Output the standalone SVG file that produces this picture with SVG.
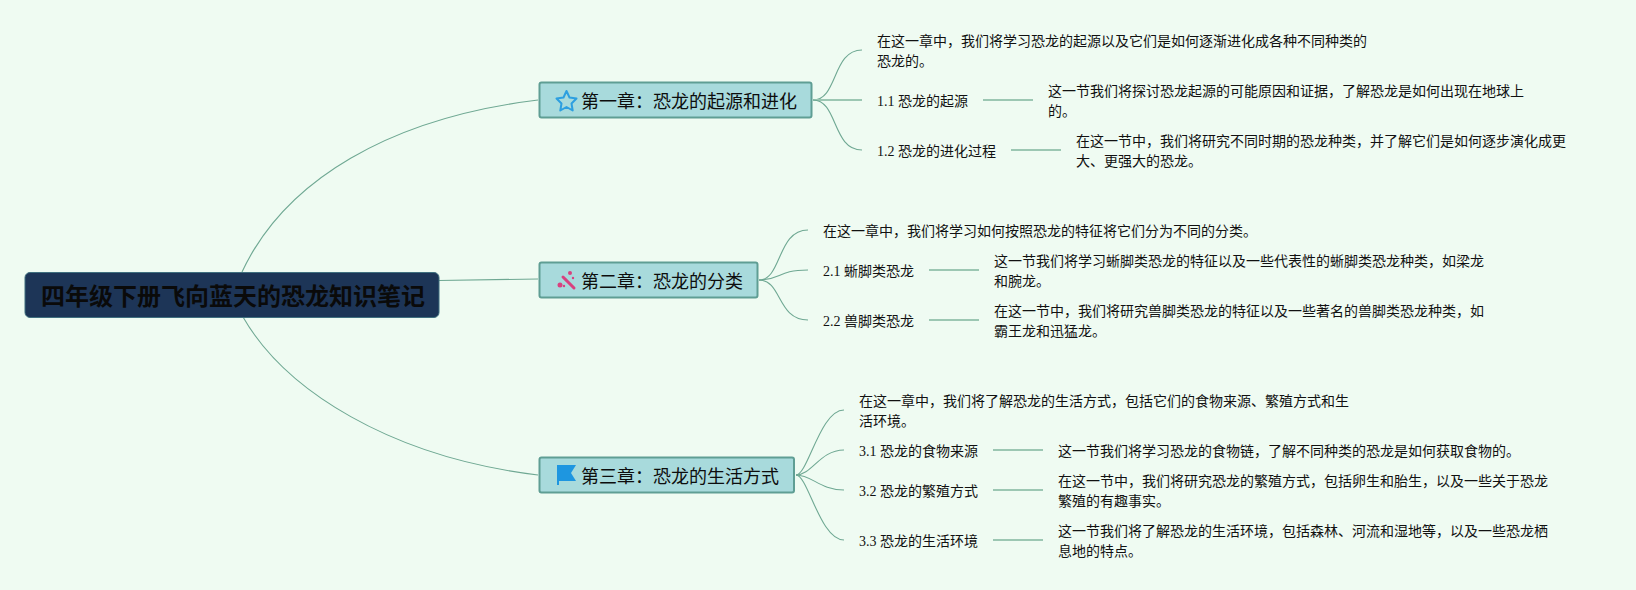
<svg xmlns="http://www.w3.org/2000/svg" width="1636" height="590" viewBox="0 0 1636 590">
<style>
.t{font-family:"Liberation Serif","Noto Sans CJK SC",serif;font-size:14px;fill:#111}
.c{font-family:"Liberation Sans","Noto Sans CJK SC",sans-serif;font-size:18px;fill:#0d0d0d}
.b{fill:#a8dadc;stroke:#5f9e94;stroke-width:2}
.l{fill:none;stroke:#6fa893;stroke-width:1.1}
.h{fill:none;stroke:#9cc7b3;stroke-width:2}
</style>
<rect width="1636" height="590" fill="#effbf2"/>
<g id="connectors">
<path class="l" d="M242 272C285 180 390 118 538 100"/>
<path class="l" d="M439 280.500L538 279"/>
<path class="l" d="M243 317C285 390 390 457 538 475"/>
<path class="l" d="M813 100C838 100 832 50 862 50"/>
<path class="h" d="M813 100H862"/>
<path class="l" d="M813 100C838 100 832 150 862 150"/>
<path class="h" d="M983 100H1033"/>
<path class="h" d="M1011 150H1061"/>
<path class="l" d="M759 280C782 280 777 230 808 230"/>
<path class="l" d="M759 280C782 280 777 270 808 270"/>
<path class="l" d="M759 280C782 280 777 320 808 320"/>
<path class="h" d="M929 270H979"/>
<path class="h" d="M929 320H979"/>
<path class="l" d="M796 475C808 475 820 410 844 410"/>
<path class="l" d="M796 475C812 475 820 450 844 450"/>
<path class="l" d="M796 475C812 475 820 490 844 490"/>
<path class="l" d="M796 475C808 475 820 540 844 540"/>
<path class="h" d="M993 450H1043"/>
<path class="h" d="M993 490H1043"/>
<path class="h" d="M993 540H1043"/>
</g>
<g id="root">
<rect x="25" y="272.500" width="414" height="45" rx="5" fill="#1d3557" stroke="#3f6f7f" stroke-width="1"/>
<text x="41" y="304.500" font-family="Liberation Sans,Noto Sans CJK SC,sans-serif" font-size="24" font-weight="700" fill="#0a0a0a">四年级下册飞向蓝天的恐龙知识笔记</text>
</g>
<g id="ch1">
<rect class="b" x="539.500" y="82.500" width="272" height="35" rx="2"/>
<polygon points="566.500,91 569.500,97.500 576.500,98.500 571.500,103.500 572.700,110.500 566.500,107 560.300,110.500 561.500,103.500 556.500,98.500 563.500,97.500" fill="none" stroke="#2d9fe0" stroke-width="2" stroke-linejoin="round"/>
<text class="c" x="581" y="107.500">第一章&#xFF1A;恐龙的起源和进化</text>
</g>
<g id="ch1-intro"><text class="t" x="877" y="46">在这一章中&#xFF0C;我们将学习恐龙的起源以及它们是如何逐渐进化成各种不同种类的</text><text class="t" x="877" y="66">恐龙的。</text></g>
<g id="n11"><text class="t" x="877" y="106">1.1 恐龙的起源</text></g>
<g id="n11d"><text class="t" x="1048" y="96">这一节我们将探讨恐龙起源的可能原因和证据&#xFF0C;了解恐龙是如何出现在地球上</text><text class="t" x="1048" y="116">的。</text></g>
<g id="n12"><text class="t" x="877" y="156">1.2 恐龙的进化过程</text></g>
<g id="n12d"><text class="t" x="1076" y="146">在这一节中&#xFF0C;我们将研究不同时期的恐龙种类&#xFF0C;并了解它们是如何逐步演化成更</text><text class="t" x="1076" y="166">大、更强大的恐龙。</text></g>
<g id="ch2">
<rect class="b" x="539.500" y="262.500" width="218" height="35" rx="2"/>
<path d="M563 277L574 288" stroke="#d9417f" stroke-width="3" stroke-linecap="round"/>
<circle cx="560" cy="285" r="2.500" fill="#d9417f"/><circle cx="570" cy="273" r="2" fill="#d9417f"/><circle cx="566" cy="280" r="1.200" fill="#d9417f"/><circle cx="573" cy="278" r="1.200" fill="#d9417f"/><circle cx="564" cy="286" r="1.200" fill="#d9417f"/>
<text class="c" x="581" y="287.500">第二章&#xFF1A;恐龙的分类</text>
</g>
<g id="ch2-intro"><text class="t" x="823" y="236">在这一章中&#xFF0C;我们将学习如何按照恐龙的特征将它们分为不同的分类。</text></g>
<g id="n21"><text class="t" x="823" y="275.500">2.1 蜥脚类恐龙</text></g>
<g id="n21d"><text class="t" x="994" y="266">这一节我们将学习蜥脚类恐龙的特征以及一些代表性的蜥脚类恐龙种类&#xFF0C;如梁龙</text><text class="t" x="994" y="286">和腕龙。</text></g>
<g id="n22"><text class="t" x="823" y="326">2.2 兽脚类恐龙</text></g>
<g id="n22d"><text class="t" x="994" y="315.500">在这一节中&#xFF0C;我们将研究兽脚类恐龙的特征以及一些著名的兽脚类恐龙种类&#xFF0C;如</text><text class="t" x="994" y="335.500">霸王龙和迅猛龙。</text></g>
<g id="ch3">
<rect class="b" x="539.500" y="457.500" width="254.500" height="35" rx="2"/>
<path d="M557 465H576L571 473L576 481H559V485H557Z" fill="#1e96e0"/>
<text class="c" x="581" y="482.500">第三章&#xFF1A;恐龙的生活方式</text>
</g>
<g id="ch3-intro"><text class="t" x="859" y="406">在这一章中&#xFF0C;我们将了解恐龙的生活方式&#xFF0C;包括它们的食物来源、繁殖方式和生</text><text class="t" x="859" y="426">活环境。</text></g>
<g id="n31"><text class="t" x="859" y="456">3.1 恐龙的食物来源</text></g>
<g id="n31d"><text class="t" x="1058" y="456">这一节我们将学习恐龙的食物链&#xFF0C;了解不同种类的恐龙是如何获取食物的。</text></g>
<g id="n32"><text class="t" x="859" y="496">3.2 恐龙的繁殖方式</text></g>
<g id="n32d"><text class="t" x="1058" y="485.500">在这一节中&#xFF0C;我们将研究恐龙的繁殖方式&#xFF0C;包括卵生和胎生&#xFF0C;以及一些关于恐龙</text><text class="t" x="1058" y="505.500">繁殖的有趣事实。</text></g>
<g id="n33"><text class="t" x="859" y="546">3.3 恐龙的生活环境</text></g>
<g id="n33d"><text class="t" x="1058" y="535.500">这一节我们将了解恐龙的生活环境&#xFF0C;包括森林、河流和湿地等&#xFF0C;以及一些恐龙栖</text><text class="t" x="1058" y="555.500">息地的特点。</text></g>
</svg>
